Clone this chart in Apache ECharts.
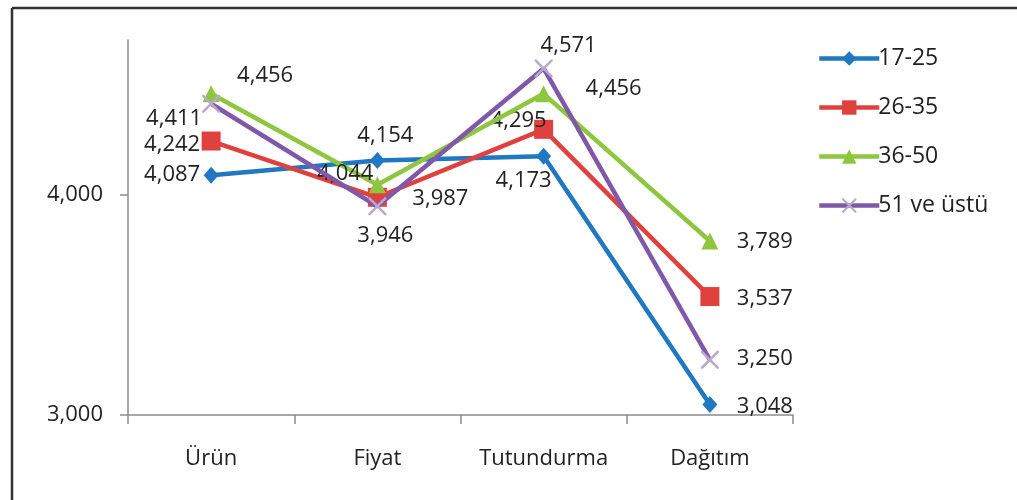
<!DOCTYPE html>
<html>
<head>
<meta charset="utf-8">
<script src="https://cdn.jsdelivr.net/npm/echarts@6/dist/echarts.min.js"></script>
<style>
  html, body { margin: 0; padding: 0; background: #fff; }
  #chart { width: 1017px; height: 500px; }
</style>
</head>
<body>
<div id="chart"></div>
<script>
// Categories and series values
const categories = ['Ürün', 'Fiyat', 'Tutundurma', 'Dağıtım'];
const seriesNames = ['17-25', '26-35', '36-50', '51 ve üstü'];
const values17_25 = [4.087, 4.154, 4.173, 3.048];
const values26_35 = [4.242, 3.987, 4.295, 3.537];
const values36_50 = [4.456, 4.044, 4.456, 3.789];
const values51plus = [4.411, 3.946, 4.571, 3.250];
const yTicks = [3, 4];

// Label offsets (pixels from the marker centre) per series and point
const labelOffsets = [
  [[-39, 0], [8, -25], [-20, 24], [55, 2]],
  [[-39, 4], [63, 1], [-25, -9], [55, 2]],
  [[54, -18], [-32, -11], [70, -5], [55, 1]],
  [[-37, 15], [8, 29], [25, -23], [55, -1]]
];

const FONT = '"Open Sans", "Noto Sans", sans-serif';
const fmt = v => v.toFixed(3).replace('.', ',');

const crossPath = 'path://M0,0 L2,0 L10,8 L18,0 L20,0 L20,2 L12,10 L20,18 L20,20 L18,20 L10,12 L2,20 L0,20 L0,18 L8,10 L0,2 Z';

const styles = [
  { color: '#1f78c1', symbol: 'diamond', size: [15, 17], symbolColor: '#1f78c1' },
  { color: '#e0413f', symbol: 'rect', size: 19, symbolColor: '#e0413f' },
  { color: '#8ec63f', symbol: 'triangle', size: 17, symbolColor: '#8ec63f' },
  { color: '#7f58a9', symbol: crossPath, size: 18, symbolColor: '#b9a9cf' }
];

const allValues = [values17_25, values26_35, values36_50, values51plus];

const series = allValues.map((vals, si) => ({
  name: seriesNames[si],
  type: 'line',
  data: vals.map((v, i) => ({
    value: v,
    label: { offset: labelOffsets[si][i] }
  })),
  symbol: styles[si].symbol,
  symbolSize: styles[si].size,
  showAllSymbol: true,
  lineStyle: { color: styles[si].color, width: 4.5 },
  itemStyle: { color: styles[si].symbolColor },
  label: {
    show: true,
    position: 'inside',
    align: 'center',
    verticalAlign: 'middle',
    formatter: p => fmt(p.value),
    fontFamily: FONT,
    fontSize: 22,
    color: '#222'
  },
  z: 2 + si
}));

const chart = echarts.init(document.getElementById('chart'), null, { renderer: 'canvas' });
chart.setOption({
  animation: false,
  backgroundColor: '#fff',
  textStyle: { fontFamily: FONT },
  grid: { left: 128, top: 40, right: 224, bottom: 85, containLabel: false },
  legend: {
    orient: 'vertical',
    left: 812,
    top: 42,
    itemWidth: 60,
    itemHeight: 18,
    itemGap: 26,
    data: seriesNames,
    lineStyle: { width: 4.5 },
    textStyle: { fontFamily: FONT, fontSize: 23, color: '#222', padding: [0, 0, 0, -6] }
  },
  xAxis: {
    type: 'category',
    data: categories,
    boundaryGap: true,
    axisLine: { lineStyle: { color: '#8c8c8c', width: 1.5 } },
    axisTick: { show: true, length: 9, lineStyle: { color: '#8c8c8c', width: 1.5 } },
    axisLabel: { interval: 0, fontFamily: FONT, fontSize: 22, color: '#222', margin: 33 },
    splitLine: { show: false }
  },
  yAxis: {
    type: 'value',
    min: 3,
    max: 4.7,
    interval: 1,
    axisLine: { show: true, lineStyle: { color: '#8c8c8c', width: 1.5 } },
    axisTick: { show: true, length: 8, customValues: yTicks, lineStyle: { color: '#8c8c8c', width: 1.5 } },
    axisLabel: {
      fontFamily: FONT, fontSize: 22, color: '#222', margin: 25,
      customValues: yTicks,
      formatter: v => v.toFixed(3).replace('.', ',')
    },
    splitLine: { show: true, showMinLine: false, showMaxLine: false, lineStyle: { color: '#9a9a9a', width: 1.5 } }
  },
  graphic: [
    { type: 'line', shape: { x1: 12, y1: 8, x2: 1017, y2: 8 }, style: { stroke: '#333', lineWidth: 2.5 }, silent: true },
    { type: 'line', shape: { x1: 12, y1: 8, x2: 12, y2: 500 }, style: { stroke: '#333', lineWidth: 2.5 }, silent: true }
  ],
  series: series
});
</script>
</body>
</html>
